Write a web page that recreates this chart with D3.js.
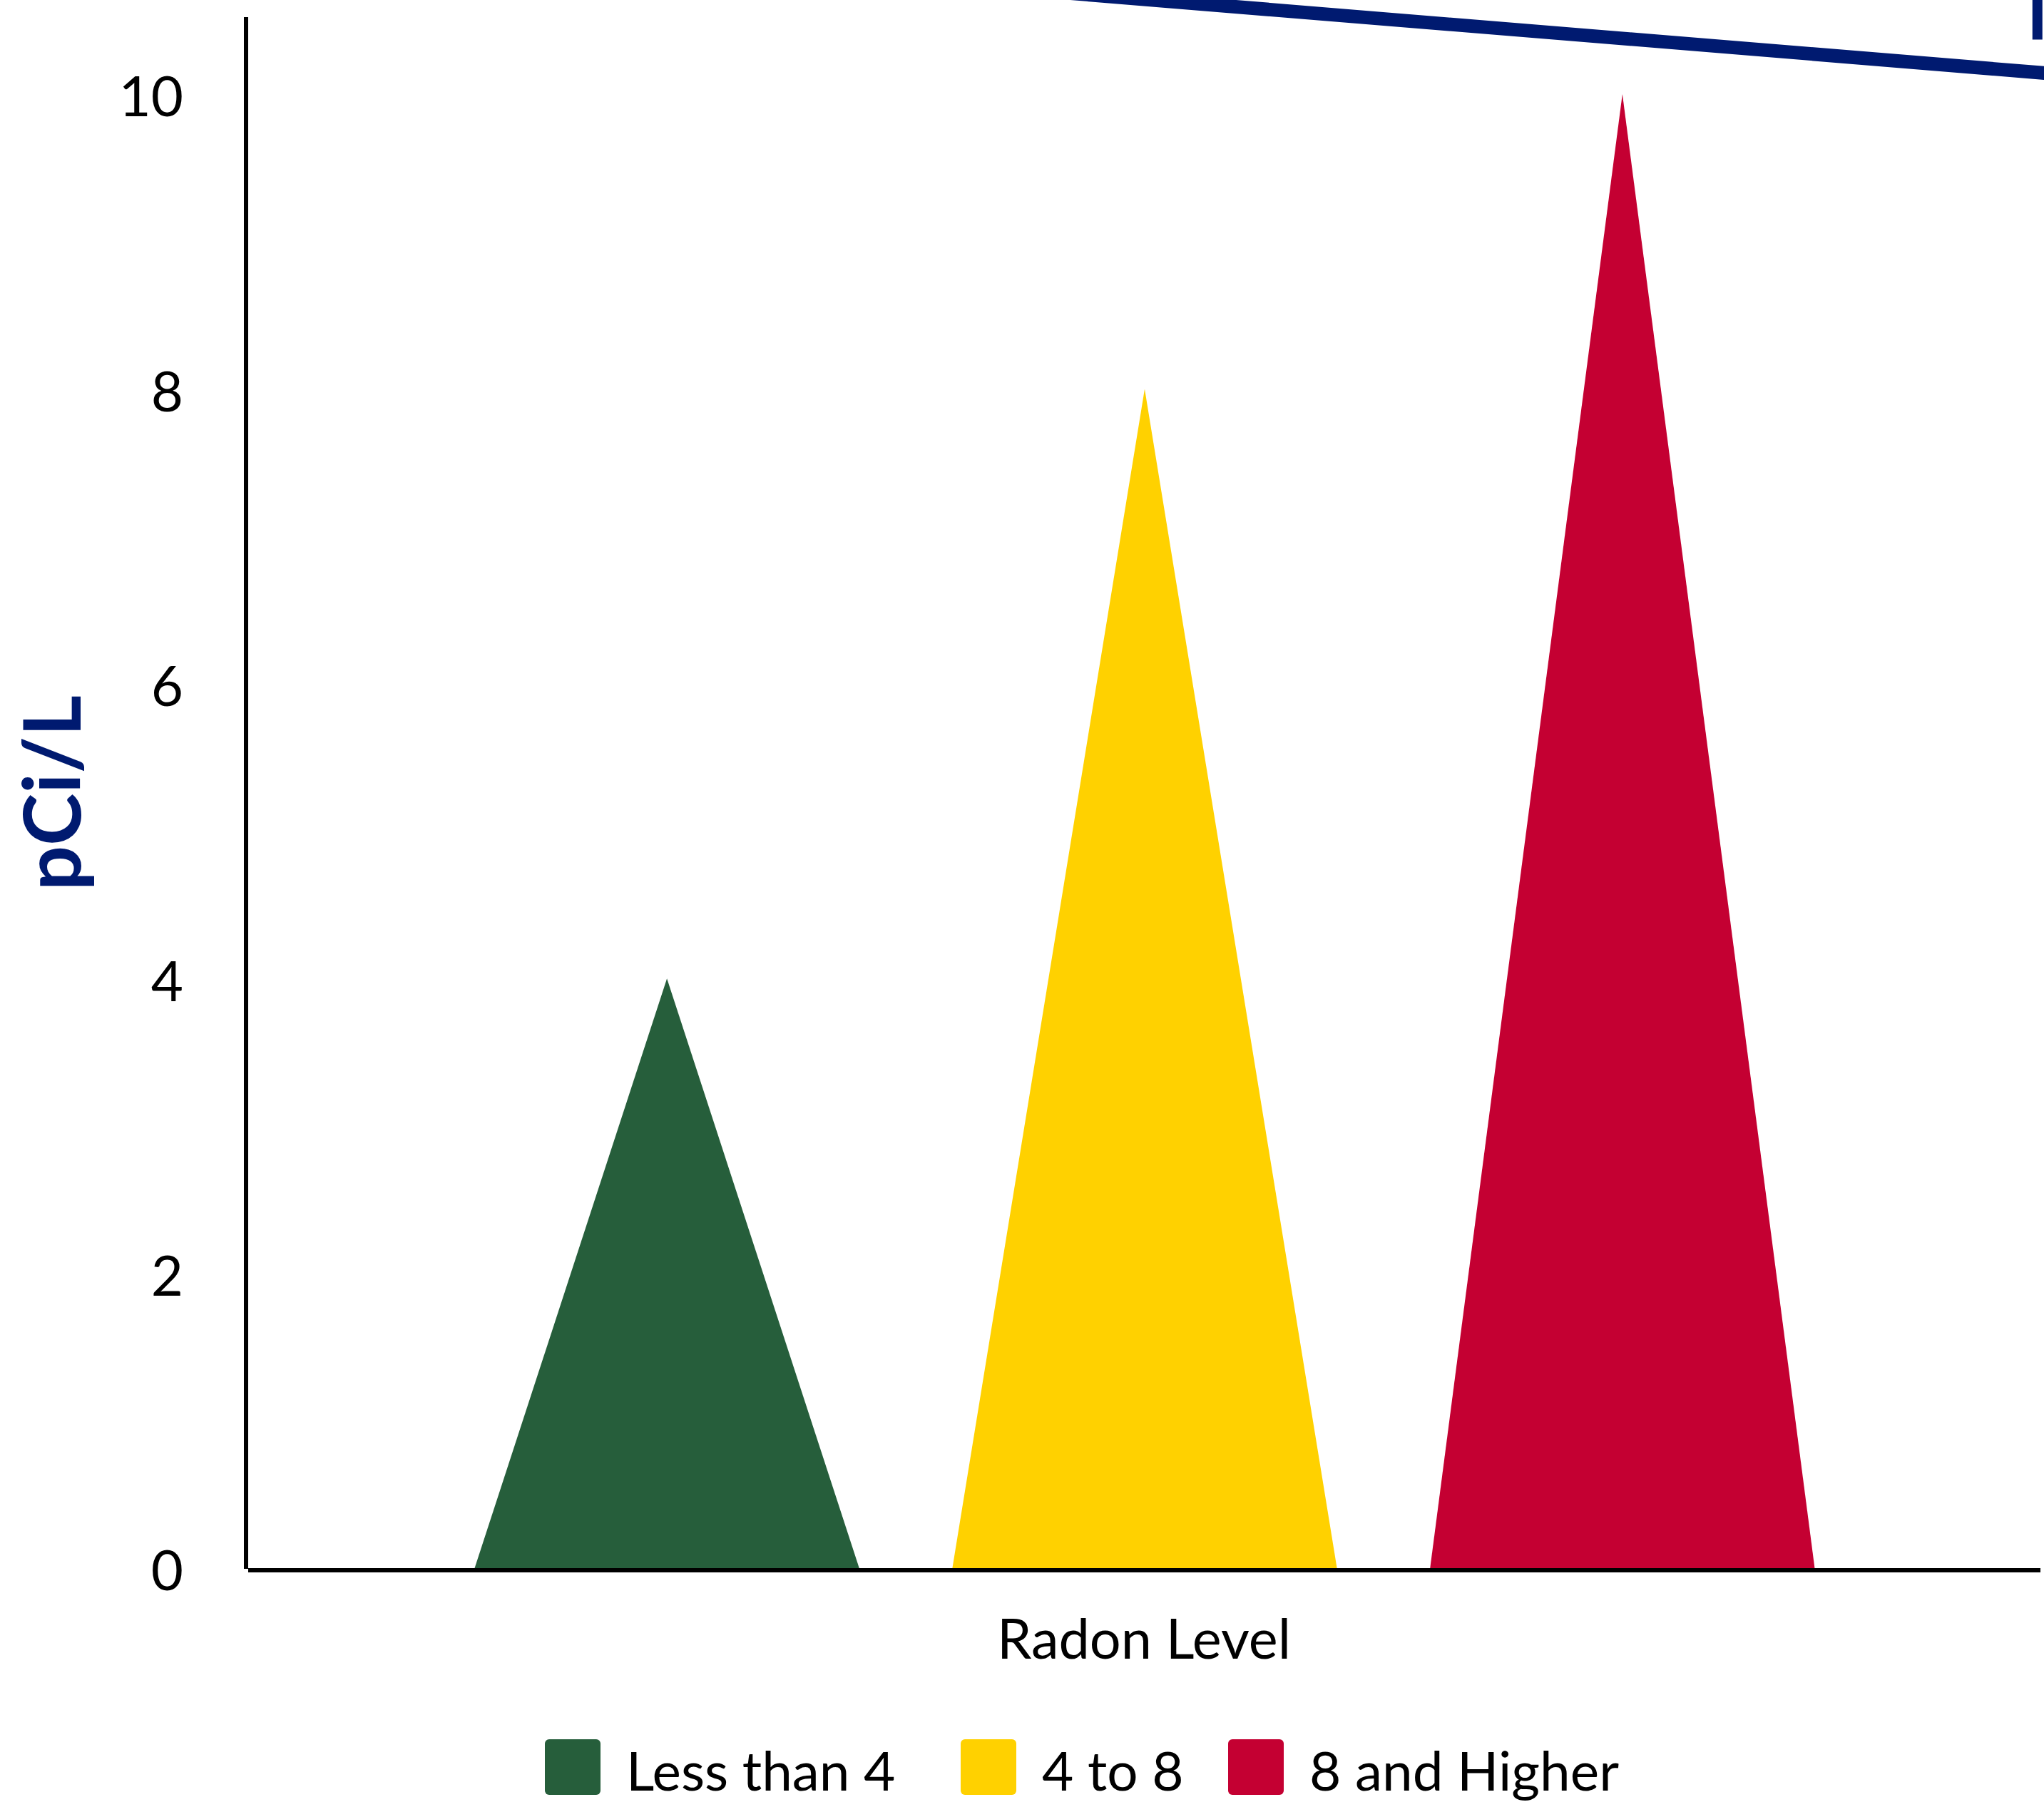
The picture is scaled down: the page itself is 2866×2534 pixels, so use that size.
<!DOCTYPE html>
<html>
<head>
<meta charset="utf-8">
<script src="https://cdn.jsdelivr.net/npm/d3@7"></script>
<style>
  html, body { margin: 0; padding: 0; background: #ffffff; }
  svg { display: block; }
  text { font-family: Lato, "Open Sans", sans-serif; }
</style>
</head>
<body>
<div id="chart"></div>
<script>
// ---- data ----
const categories = ["Less than 4", "4 to 8", "8 and Higher"];
const values = [4, 8, 10];
const colors = ["#265e3b", "#ffd100", "#c40032"];
const yTicks = [0, 2, 4, 6, 8, 10];
const yLabel = "pCi/L";
const xLabel = "Radon Level";
// decorative navy roof edge (category-index units, value units)
const roofX = [1.0, 3.1];
const roofY = [10.81, 10.11];
const chimneyX = [2.989, 2.989];
const chimneyY = [10.8, 10.37];

// ---- layout ----
const W = 2866, H = 2534;
const plotLeft = 344, plotRight = 2866, plotTop = 132, plotBottom = 2199;

const svg = d3.select("#chart").append("svg")
  .attr("width", W).attr("height", H);

const x = d3.scaleBand().domain(categories).range([plotLeft, plotRight])
  .paddingInner(0.195).paddingOuter(0.48);
const y = d3.scaleLinear().domain([0, 10]).range([plotBottom, plotTop]);
const xIdx = d3.scaleLinear().domain([0, 3]).range([plotLeft, plotRight]);

// decoration
const navy = "#001a70";
svg.append("path")
  .attr("d", d3.line()(roofX.map((d, i) => [xIdx(d), y(roofY[i])])))
  .attr("stroke", navy).attr("stroke-width", 19).attr("fill", "none");
svg.append("path")
  .attr("d", d3.line()(chimneyX.map((d, i) => [xIdx(d), y(chimneyY[i])])))
  .attr("stroke", navy).attr("stroke-width", 14).attr("fill", "none");

// triangles
svg.append("g").selectAll("path")
  .data(categories)
  .join("path")
  .attr("d", (c, i) => {
    const x0 = x(c), x1 = x(c) + x.bandwidth(), xm = x(c) + x.bandwidth() / 2;
    return d3.line()([[x0, y(0)], [xm, y(values[i])], [x1, y(0)]]) + "Z";
  })
  .attr("fill", (c, i) => colors[i]);

// y axis
const yAxis = svg.append("g")
  .attr("transform", `translate(${plotLeft + 1},6)`)
  .call(d3.axisLeft(y).tickValues(yTicks).tickSize(0).tickPadding(88));
yAxis.select(".domain").remove();
yAxis.selectAll("text")
  .attr("font-family", "Lato").attr("font-size", 78).attr("fill", "#000");
svg.append("line")
  .attr("x1", plotLeft + 1).attr("x2", plotLeft + 1)
  .attr("y1", 24).attr("y2", plotBottom + 1)
  .attr("stroke", "#000").attr("stroke-width", 6);

// x axis line
svg.append("line")
  .attr("x1", plotLeft + 4).attr("x2", 2861)
  .attr("y1", plotBottom + 3).attr("y2", plotBottom + 3)
  .attr("stroke", "#000").attr("stroke-width", 6);

// axis titles
svg.append("text")
  .attr("transform", `translate(113, 1112) rotate(-90)`)
  .attr("text-anchor", "middle")
  .attr("font-family", "Lato").attr("font-weight", "bold")
  .attr("font-size", 111).attr("fill", navy)
  .text(yLabel);

svg.append("text")
  .attr("x", 1604).attr("y", 2326)
  .attr("text-anchor", "middle")
  .attr("font-family", "Lato").attr("font-size", 77.5).attr("fill", "#000")
  .text(xLabel);

// legend
const legendX = [764, 1347, 1722];
const lg = svg.append("g").selectAll("g")
  .data(categories)
  .join("g")
  .attr("transform", (d, i) => `translate(${legendX[i]}, 2439)`);
lg.append("rect")
  .attr("width", 78).attr("height", 78).attr("rx", 6)
  .attr("fill", (d, i) => colors[i]);
lg.append("text")
  .attr("x", 114).attr("y", 72)
  .attr("font-family", "Lato").attr("font-size", 76.5).attr("fill", "#000")
  .text(d => d);
</script>
</body>
</html>
